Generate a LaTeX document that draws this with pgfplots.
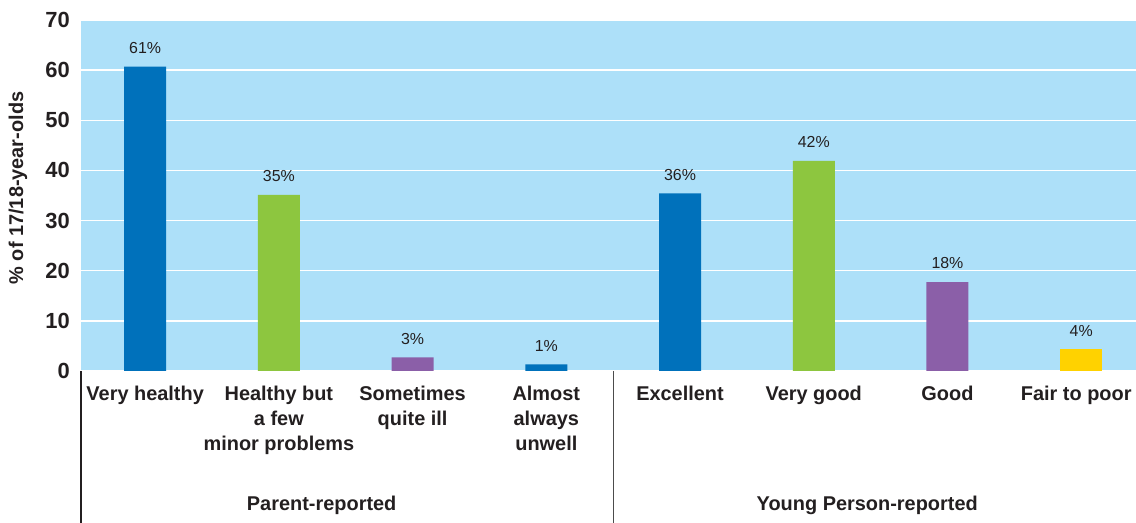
\documentclass[border=0pt]{standalone}
\usepackage{pgfplots}
\pgfplotsset{compat=1.18}
\usepackage{fontspec}
\setmainfont{Liberation Sans}
\definecolor{bg}{RGB}{173,224,249}
\definecolor{cblue}{RGB}{0,113,187}
\definecolor{cgreen}{RGB}{141,198,63}
\definecolor{cpurple}{RGB}{139,95,168}
\definecolor{cyellow}{RGB}{255,210,0}
\definecolor{txt}{RGB}{35,31,32}
\begin{document}
\begin{tikzpicture}
\begin{axis}[
  scale only axis, width=1055bp, height=351bp,
  xmin=-0.48, xmax=7.41, ymin=0, ymax=70,
  axis background/.style={fill=bg},
  axis line style={draw=none},
  ytick={0,10,...,70},
  ymajorgrids, grid style={white, line width=1.5bp},
  major tick length=0pt,
  xtick={0,...,7},
  xticklabels={Very healthy,{Healthy but\\a few\\minor problems},{Sometimes\\quite ill},{Almost\\always\\unwell},Excellent,Very good,Good,{Fair to poor\hspace*{10bp}}},
  xticklabel style={font=\fontsize{20}{25}\selectfont\bfseries, text=txt, align=center, anchor=north, inner sep=0pt, yshift=-15bp},
  yticklabel style={font=\fontsize{22}{24}\selectfont\bfseries, text=txt, anchor=east, inner sep=0pt, xshift=-11bp},
  /pgf/number format/assume math mode=true,
  ybar, bar width=42bp, bar shift=0pt,
  clip=false,
  point meta=explicit symbolic,
  nodes near coords={\pgfplotspointmeta},
  every node near coord/.append style={font=\fontsize{16}{18}\selectfont, text=txt, anchor=south, inner sep=0pt, yshift=13bp},
]
\addplot[fill=cblue, draw=none] coordinates {(0,60.7) [61\%] (3,1.3) [1\%] (4,35.4) [36\%]};
\addplot[fill=cgreen, draw=none] coordinates {(1,35.1) [35\%] (5,41.9) [42\%]};
\addplot[fill=cpurple, draw=none] coordinates {(2,2.7) [3\%] (6,17.7) [18\%]};
\addplot[fill=cyellow, draw=none] coordinates {(7,4.3) [4\%]};
\coordinate (sw) at (rel axis cs:0,0);
\coordinate (ne) at (rel axis cs:1,1);
\coordinate (sep) at (axis cs:3.5,0);
\coordinate (g1) at (axis cs:1.32,0);
\coordinate (g2) at (axis cs:5.40,0);
\coordinate (yl) at (axis cs:-0.48,36.5);
\end{axis}
\draw[line width=1.3bp, txt] (sw) -- ++(0,-152bp);
\draw[line width=1.3bp, black!70] (sep) -- ++(0,-152bp);
\node[font=\fontsize{20}{24}\selectfont\bfseries, text=txt] at ([yshift=-134bp]g1) {Parent-reported};
\node[font=\fontsize{20}{24}\selectfont\bfseries, text=txt] at ([yshift=-134bp]g2) {Young Person-reported};
\node[font=\fontsize{20}{24}\selectfont\bfseries, text=txt, rotate=90] at ([xshift=-63bp]yl) {\% of 17/18-year-olds};
\pgfresetboundingbox
\path[use as bounding box] ([xshift=-81bp,yshift=-152bp]sw) rectangle ([yshift=20bp]ne);
\end{tikzpicture}
\end{document}
